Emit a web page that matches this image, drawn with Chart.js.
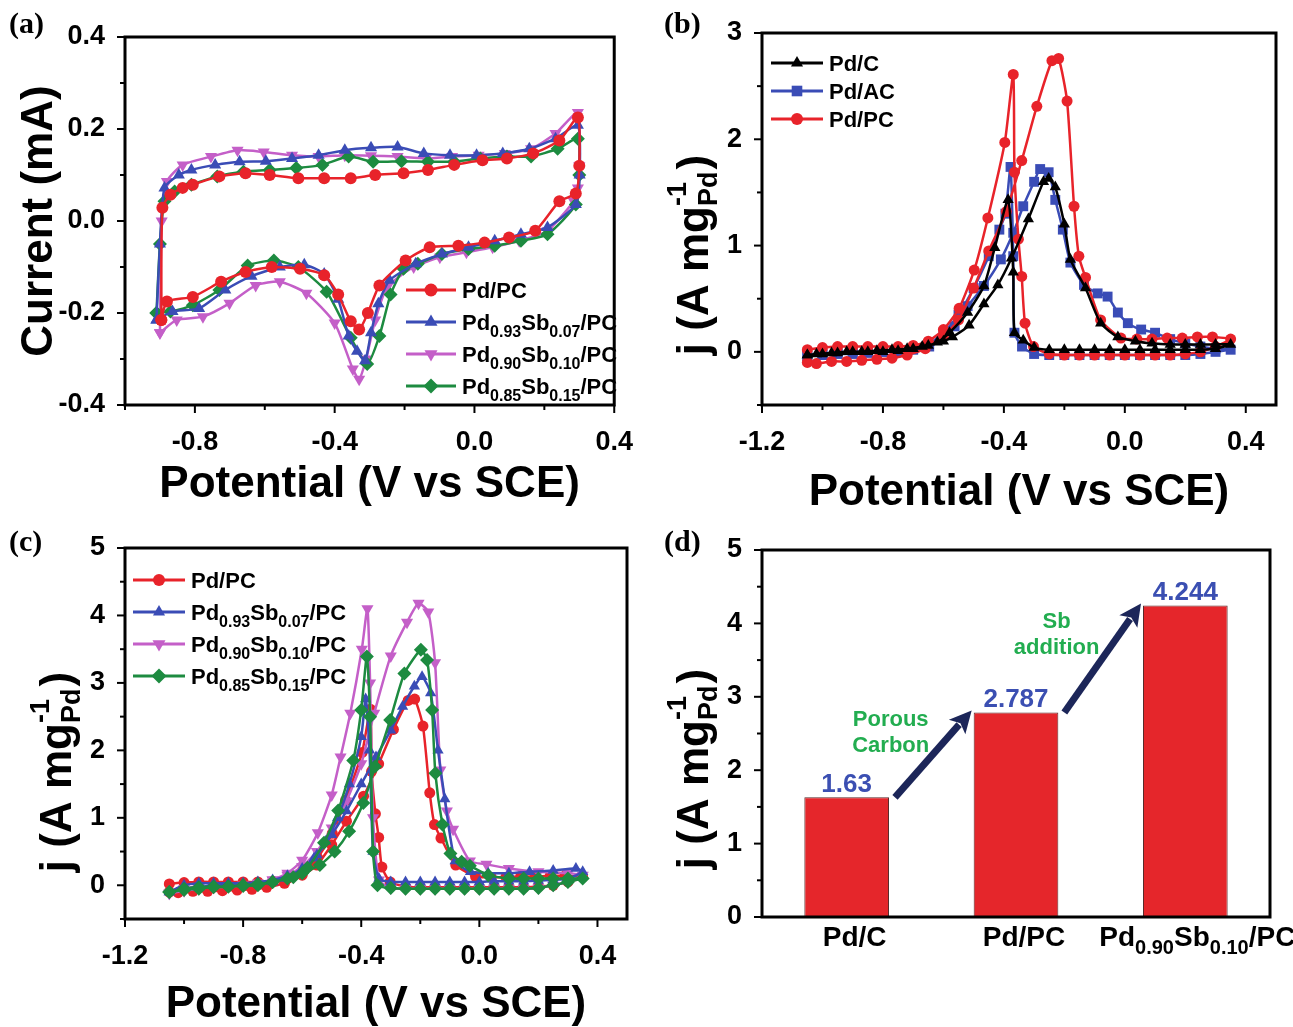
<!DOCTYPE html>
<html>
<head>
<meta charset="utf-8">
<script src="https://cdn.jsdelivr.net/npm/chart.js@4.4.0/dist/chart.umd.min.js"></script>
<style>
  body { margin: 0; background: #fff; }
  #wrap { position: relative; width: 1293px; height: 1027px; overflow: hidden; background: #fff; }
  canvas { position: absolute; }
</style>
</head>
<body>
<div id="wrap">
  <canvas id="cvA" width="646" height="515" style="left:0;top:0"></canvas>
  <canvas id="cvB" width="647" height="515" style="left:646px;top:0"></canvas>
  <canvas id="cvC" width="646" height="512" style="left:0;top:515px"></canvas>
  <canvas id="cvD" width="647" height="512" style="left:646px;top:515px"></canvas>
</div>
<script>
// ---- (a) CV loops: potential (V vs SCE) and current (mA), anodic branch then cathodic branch
const aPdPC_E = [-0.896,-0.893,-0.87,-0.835,-0.806,-0.73,-0.655,-0.586,-0.504,-0.43,-0.354,-0.284,-0.203,-0.133,-0.058,0.023,0.093,0.168,0.243,0.296,
  0.3,0.29,0.243,0.174,0.099,0.029,-0.046,-0.128,-0.197,-0.272,-0.305,-0.33,-0.354,-0.39,-0.43,-0.499,-0.58,-0.655,-0.725,-0.806,-0.88,-0.896];
const aPdPC_I = [-0.215,0.029,0.057,0.072,0.079,0.097,0.104,0.100,0.093,0.093,0.093,0.100,0.104,0.111,0.122,0.132,0.136,0.147,0.175,0.225,
  0.120,0.060,0.043,-0.021,-0.036,-0.047,-0.054,-0.057,-0.086,-0.140,-0.200,-0.236,-0.218,-0.160,-0.118,-0.104,-0.100,-0.111,-0.132,-0.165,-0.175,-0.215];

const aSb07_E = [-0.91,-0.9,-0.887,-0.846,-0.81,-0.742,-0.672,-0.597,-0.522,-0.446,-0.371,-0.296,-0.22,-0.145,-0.07,0.006,0.081,0.157,0.232,0.296,
  0.301,0.29,0.209,0.133,0.058,-0.017,-0.093,-0.168,-0.243,-0.275,-0.296,-0.313,-0.336,-0.36,-0.39,-0.43,-0.487,-0.557,-0.638,-0.713,-0.788,-0.864,-0.91];
const aSb07_I = [-0.215,-0.05,0.072,0.100,0.111,0.122,0.129,0.130,0.136,0.143,0.154,0.159,0.161,0.147,0.143,0.143,0.147,0.157,0.179,0.208,
  0.100,0.036,-0.014,-0.029,-0.043,-0.057,-0.072,-0.093,-0.129,-0.180,-0.243,-0.304,-0.283,-0.250,-0.170,-0.115,-0.095,-0.100,-0.120,-0.150,-0.190,-0.197,-0.215];

const aSb10_E = [-0.9,-0.895,-0.88,-0.835,-0.754,-0.678,-0.603,-0.522,-0.446,-0.371,-0.296,-0.22,-0.139,-0.064,0.012,0.087,0.162,0.232,0.296,
  0.3,0.296,0.284,0.209,0.128,0.052,-0.023,-0.099,-0.174,-0.249,-0.284,-0.31,-0.33,-0.348,-0.4,-0.481,-0.557,-0.626,-0.701,-0.777,-0.852,-0.9];
const aSb10_I = [-0.243,0.0,0.086,0.122,0.140,0.154,0.150,0.143,0.140,0.143,0.142,0.140,0.136,0.140,0.143,0.147,0.157,0.190,0.236,
  0.120,0.072,0.043,-0.021,-0.043,-0.057,-0.068,-0.079,-0.100,-0.143,-0.215,-0.300,-0.344,-0.322,-0.222,-0.157,-0.132,-0.140,-0.179,-0.208,-0.215,-0.243];

const aSb15_E = [-0.91,-0.9,-0.887,-0.858,-0.81,-0.736,-0.661,-0.586,-0.51,-0.435,-0.36,-0.29,-0.209,-0.133,-0.058,0.017,0.093,0.162,0.238,0.296,
  0.3,0.29,0.209,0.133,0.058,-0.017,-0.093,-0.162,-0.203,-0.24,-0.272,-0.307,-0.354,-0.423,-0.504,-0.574,-0.649,-0.73,-0.806,-0.87,-0.91];
const aSb15_I = [-0.2,-0.05,0.043,0.064,0.079,0.097,0.107,0.111,0.115,0.122,0.140,0.129,0.130,0.129,0.129,0.136,0.140,0.140,0.157,0.179,
  0.100,0.036,-0.029,-0.043,-0.054,-0.061,-0.072,-0.093,-0.104,-0.160,-0.250,-0.311,-0.254,-0.154,-0.100,-0.086,-0.097,-0.150,-0.183,-0.197,-0.200];

// ---- (b)/(c) ethanol oxidation: forward scan and backward scan, j in A/mg Pd
const pdcFwdE = [-1.05,-1.0,-0.95,-0.9,-0.85,-0.8,-0.75,-0.7,-0.65,-0.6,-0.57,-0.515,-0.466,-0.42,-0.375,-0.319,-0.269,-0.252,-0.23,-0.2,-0.18,-0.13,-0.08,-0.023,0.035,0.09,0.15,0.2,0.25,0.3,0.35];
const pdcFwdJ = [-0.03,-0.02,-0.01,0.0,0.0,0.0,0.01,0.03,0.06,0.1,0.14,0.25,0.45,0.63,0.88,1.25,1.6,1.63,1.55,1.2,0.87,0.6,0.27,0.14,0.1,0.08,0.07,0.07,0.07,0.07,0.07];
const pdcBwdE = [0.3,0.25,0.2,0.15,0.1,0.05,0.0,-0.05,-0.1,-0.15,-0.2,-0.25,-0.3,-0.336,-0.365,-0.369,-0.386,-0.43,-0.466,-0.52,-0.58,-0.62,-0.67,-0.72,-0.77,-0.82,-0.87,-0.92,-0.97,-1.02,-1.05];
const pdcBwdJ = [0.03,0.02,0.02,0.02,0.02,0.02,0.02,0.02,0.02,0.02,0.02,0.02,0.04,0.11,0.18,0.75,1.43,0.98,0.62,0.37,0.18,0.09,0.05,0.03,0.02,0.01,0.0,0.0,-0.01,-0.02,-0.03];

const pdacFwdE = [-1.05,-1.0,-0.95,-0.9,-0.85,-0.8,-0.75,-0.7,-0.647,-0.605,-0.563,-0.52,-0.466,-0.41,-0.369,-0.336,-0.3,-0.28,-0.252,-0.23,-0.205,-0.18,-0.135,-0.09,-0.057,-0.023,0.01,0.054,0.1,0.15,0.2,0.25,0.3,0.35];
const pdacFwdJ = [-0.04,-0.02,-0.01,0.0,0.0,0.0,0.0,0.02,0.05,0.12,0.24,0.43,0.62,0.87,1.12,1.37,1.6,1.72,1.69,1.43,1.15,0.84,0.63,0.55,0.52,0.37,0.27,0.21,0.18,0.12,0.08,0.05,0.03,0.02];
const pdacBwdE = [0.3,0.25,0.2,0.15,0.1,0.05,0.0,-0.05,-0.1,-0.15,-0.2,-0.25,-0.3,-0.34,-0.365,-0.369,-0.378,-0.395,-0.415,-0.45,-0.5,-0.55,-0.6,-0.65,-0.7,-0.75,-0.8,-0.85,-0.9,-0.95,-1.0,-1.05];
const pdacBwdJ = [0.0,-0.02,-0.03,-0.03,-0.03,-0.03,-0.03,-0.03,-0.03,-0.03,-0.03,-0.03,-0.02,0.05,0.18,0.9,1.74,1.3,1.15,0.9,0.6,0.35,0.18,0.07,0.03,0.01,0.0,-0.01,-0.02,-0.02,-0.03,-0.04];

const pdpcFwdE = [-1.05,-1.02,-0.97,-0.92,-0.87,-0.82,-0.77,-0.72,-0.66,-0.6,-0.55,-0.5,-0.45,-0.392,-0.341,-0.291,-0.241,-0.219,-0.191,-0.168,-0.152,-0.13,-0.08,-0.013,0.04,0.09,0.14,0.19,0.24,0.29,0.35];
const pdpcFwdJ = [-0.1,-0.11,-0.09,-0.09,-0.08,-0.07,-0.06,-0.03,0.03,0.15,0.3,0.6,0.95,1.32,1.8,2.31,2.74,2.76,2.36,1.37,0.9,0.7,0.3,0.13,0.12,0.12,0.13,0.13,0.14,0.14,0.12];
const pdpcBwdE = [0.3,0.25,0.2,0.15,0.1,0.05,0.0,-0.05,-0.1,-0.15,-0.2,-0.25,-0.302,-0.33,-0.341,-0.352,-0.365,-0.369,-0.397,-0.453,-0.498,-0.548,-0.6,-0.65,-0.7,-0.75,-0.8,-0.85,-0.9,-0.95,-1.0,-1.05];
const pdpcBwdJ = [0.05,0.0,-0.02,-0.03,-0.03,-0.03,-0.03,-0.03,-0.03,-0.03,-0.03,-0.02,0.05,0.27,0.71,1.06,1.69,2.61,1.97,1.26,0.77,0.41,0.21,0.1,0.06,0.05,0.05,0.05,0.05,0.05,0.04,0.02];

const sb07FwdE = [-1.05,-1.0,-0.95,-0.9,-0.85,-0.8,-0.75,-0.7,-0.65,-0.6,-0.55,-0.5,-0.45,-0.4,-0.35,-0.3,-0.26,-0.22,-0.194,-0.165,-0.14,-0.117,-0.082,-0.03,0.03,0.1,0.17,0.25,0.327,0.35];
const sb07FwdJ = [-0.1,0.0,0.03,0.03,0.03,0.03,0.05,0.08,0.14,0.25,0.45,0.75,1.1,1.5,1.9,2.3,2.65,2.95,3.09,2.85,2.0,1.28,0.36,0.2,0.18,0.18,0.2,0.22,0.25,0.2];
const sb07BwdE = [0.3,0.25,0.2,0.15,0.1,0.05,0.0,-0.05,-0.1,-0.15,-0.2,-0.25,-0.3,-0.34,-0.36,-0.372,-0.385,-0.4,-0.44,-0.48,-0.52,-0.56,-0.6,-0.65,-0.7,-0.75,-0.8,-0.85,-0.9,-0.95,-1.0,-1.05];
const sb07BwdJ = [0.1,0.08,0.07,0.06,0.06,0.06,0.05,0.05,0.05,0.05,0.05,0.05,0.05,0.1,0.5,2.0,2.76,2.2,1.5,1.0,0.65,0.4,0.22,0.1,0.05,0.03,0.02,0.0,0.0,-0.03,-0.05,-0.1];

const sb10FwdE = [-1.05,-1.0,-0.95,-0.9,-0.85,-0.8,-0.75,-0.7,-0.65,-0.6,-0.55,-0.5,-0.45,-0.4,-0.356,-0.3,-0.245,-0.206,-0.173,-0.15,-0.132,-0.11,-0.089,-0.032,0.024,0.1,0.2,0.3,0.35];
const sb10FwdJ = [-0.12,-0.05,-0.03,-0.03,-0.02,0.0,0.03,0.08,0.15,0.28,0.5,0.85,1.25,1.8,2.55,3.4,3.9,4.18,4.05,3.3,1.71,1.1,0.83,0.36,0.31,0.25,0.2,0.18,0.15];
const sb10BwdE = [0.3,0.25,0.2,0.15,0.1,0.05,0.0,-0.05,-0.1,-0.15,-0.2,-0.25,-0.3,-0.34,-0.36,-0.37,-0.379,-0.398,-0.437,-0.47,-0.5,-0.547,-0.6,-0.65,-0.7,-0.75,-0.8,-0.85,-0.9,-0.95,-1.0,-1.05];
const sb10BwdJ = [0.05,0.0,-0.04,-0.05,-0.05,-0.05,-0.05,-0.05,-0.05,-0.05,-0.05,-0.05,-0.04,0.08,1.0,3.0,4.1,3.5,2.55,1.9,1.34,0.78,0.37,0.18,0.08,0.03,0.0,-0.02,-0.03,-0.05,-0.08,-0.12];

const sb15FwdE = [-1.05,-1.0,-0.95,-0.9,-0.85,-0.8,-0.75,-0.7,-0.65,-0.6,-0.54,-0.49,-0.441,-0.393,-0.353,-0.302,-0.254,-0.198,-0.177,-0.16,-0.149,-0.125,-0.098,-0.06,-0.032,0.03,0.1,0.15,0.2,0.25,0.3,0.35];
const sb15FwdJ = [-0.1,-0.05,-0.03,-0.02,-0.02,-0.01,0.0,0.05,0.1,0.18,0.3,0.5,0.8,1.22,1.76,2.45,3.14,3.49,3.34,2.6,1.66,0.9,0.47,0.35,0.29,0.15,0.1,0.1,0.1,0.1,0.1,0.1];
const sb15BwdE = [0.3,0.25,0.2,0.15,0.1,0.05,0.0,-0.05,-0.1,-0.15,-0.2,-0.25,-0.3,-0.345,-0.36,-0.37,-0.381,-0.4,-0.427,-0.478,-0.526,-0.582,-0.63,-0.7,-0.75,-0.8,-0.85,-0.9,-0.95,-1.0,-1.05];
const sb15BwdJ = [0.05,0.0,-0.04,-0.05,-0.05,-0.05,-0.05,-0.05,-0.05,-0.05,-0.05,-0.05,-0.04,0.0,0.5,2.5,3.39,2.6,1.85,1.11,0.63,0.26,0.12,0.05,0.02,0.0,-0.02,-0.03,-0.05,-0.07,-0.1];

// ---- (d) peak mass activity
const dCategories = ['Pd/C', 'Pd/PC', 'Pd0.90Sb0.10/PC'];
const dValues = [1.63, 2.787, 4.244];
const dValueLabels = ['1.63', '2.787', '4.244'];
const dNotes = [['Porous', 'Carbon'], ['Sb', 'addition']];

// ---- tick positions (labels only on the major ones)
const aXTicks = [-1.0, -0.8, -0.6, -0.4, -0.2, 0.0, 0.2, 0.4];
const aYTicks = [-0.4, -0.3, -0.2, -0.1, 0.0, 0.1, 0.2, 0.3, 0.4];
const bcXTicks = [-1.2, -1.0, -0.8, -0.6, -0.4, -0.2, 0.0, 0.2, 0.4];
const bYTicks = [-0.5, 0, 0.5, 1, 1.5, 2, 2.5, 3];
const cYTicks = [-0.5, 0, 0.5, 1, 1.5, 2, 2.5, 3, 3.5, 4, 4.5, 5];
const dYTicks = [0, 0.5, 1, 1.5, 2, 2.5, 3, 3.5, 4, 4.5, 5];

const SANS = "'Liberation Sans', Arial, Helvetica, sans-serif";
const SERIF = "'Liberation Serif', 'Times New Roman', serif";
const RED = '#e8232a', BLUE = '#3a4cb6', MAGENTA = '#c45fc8', GREEN = '#1d8b40', BLACK = '#000000';
const NAVY = '#1c2659', VALBLUE = '#3b4fb2', NOTEGREEN = '#22ad50', BARRED = '#e5262b';

function onStep(v, step) { const q = v / step; return Math.abs(q - Math.round(q)) < 1e-6; }
function fmt1(v) { return (Math.abs(v) < 1e-9 ? 0 : v).toFixed(1); }
function fmt0(v) { return String(Math.round(v)); }

// split "Pd0.93Sb0.07/PC" into normal and subscript pieces
function richParts(str, plain) {
  if (plain) return [{ t: str, sub: false }];
  return str.split(/(\d+\.\d+)/).filter(s => s !== '').map(s => ({ t: s, sub: /^\d+\.\d+$/.test(s) }));
}
function drawRich(ctx, str, x, y, size, align, color, plain) {
  const parts = richParts(str, plain);
  const small = Math.round(size * 0.72);
  let w = 0;
  parts.forEach(p => {
    ctx.font = `bold ${p.sub ? small : size}px ${SANS}`;
    p.w = ctx.measureText(p.t).width;
    w += p.w;
  });
  let cx = align === 'center' ? x - w / 2 : (align === 'right' ? x - w : x);
  ctx.fillStyle = color;
  ctx.textAlign = 'left';
  ctx.textBaseline = 'alphabetic';
  parts.forEach(p => {
    ctx.font = `bold ${p.sub ? small : size}px ${SANS}`;
    ctx.fillText(p.t, cx, p.sub ? y + size * 0.3 : y);
    cx += p.w;
  });
}

// rotated "j (A mg_Pd^-1)" axis title
function drawJTitle(ctx, cx, cy, size) {
  const small = Math.round(size * 0.62);
  ctx.save();
  ctx.translate(cx, cy);
  ctx.rotate(-Math.PI / 2);
  ctx.fillStyle = '#000';
  ctx.textAlign = 'left';
  ctx.textBaseline = 'alphabetic';
  ctx.font = `bold ${size}px ${SANS}`;
  const w1 = ctx.measureText('j (A mg').width;
  const w3 = ctx.measureText(')').width;
  ctx.font = `bold ${small}px ${SANS}`;
  const ws = Math.max(ctx.measureText('-1').width, ctx.measureText('Pd').width);
  const total = w1 + ws + 2 + w3;
  const base = size * 0.36;
  let x = -total / 2;
  ctx.font = `bold ${size}px ${SANS}`;
  ctx.fillText('j (A mg', x, base);
  x += w1;
  ctx.font = `bold ${small}px ${SANS}`;
  ctx.fillText('-1', x, base - size * 0.5);
  ctx.fillText('Pd', x, base + size * 0.2);
  x += ws + 2;
  ctx.font = `bold ${size}px ${SANS}`;
  ctx.fillText(')', x, base);
  ctx.restore();
}

function drawMarker(ctx, style, rot, x, y, r, color) {
  ctx.save();
  ctx.translate(x, y);
  ctx.rotate((rot || 0) * Math.PI / 180);
  ctx.fillStyle = color;
  ctx.beginPath();
  if (style === 'circle') ctx.arc(0, 0, r, 0, Math.PI * 2);
  else if (style === 'triangle') { ctx.moveTo(0, -r); ctx.lineTo(r * 0.866, r * 0.5); ctx.lineTo(-r * 0.866, r * 0.5); ctx.closePath(); }
  else if (style === 'rectRot') { ctx.moveTo(0, -r); ctx.lineTo(r, 0); ctx.lineTo(0, r); ctx.lineTo(-r, 0); ctx.closePath(); }
  else { const h = r * 0.707; ctx.rect(-h, -h, 2 * h, 2 * h); }
  ctx.fill();
  ctx.restore();
}

function drawArrow(ctx, x1, y1, x2, y2, color) {
  const ang = Math.atan2(y2 - y1, x2 - x1);
  const headL = 22, headW = 11;
  const bx = x2 - headL * Math.cos(ang), by = y2 - headL * Math.sin(ang);
  ctx.strokeStyle = color;
  ctx.lineWidth = 7;
  ctx.beginPath(); ctx.moveTo(x1, y1); ctx.lineTo(bx + 3 * Math.cos(ang), by + 3 * Math.sin(ang)); ctx.stroke();
  ctx.fillStyle = color;
  ctx.beginPath();
  ctx.moveTo(x2, y2);
  ctx.lineTo(bx + headW * Math.sin(ang), by - headW * Math.cos(ang));
  ctx.lineTo(bx + 5 * Math.cos(ang), by + 5 * Math.sin(ang));
  ctx.lineTo(bx - headW * Math.sin(ang), by + headW * Math.cos(ang));
  ctx.closePath();
  ctx.fill();
}

// frame box + outward major/minor ticks on the left and bottom axes
const frameTicks = {
  id: 'frameTicks',
  afterDatasetsDraw(chart, args, o) {
    const { ctx, chartArea: a } = chart;
    ctx.save();
    ctx.strokeStyle = '#000';
    ctx.lineWidth = 2;
    ['x', 'y'].forEach(id => {
      const cfg = o[id];
      if (!cfg) return;
      const s = chart.scales[id];
      s.ticks.forEach(t => {
        const len = onStep(t.value, cfg.major) ? 8 : 5;
        const p = s.getPixelForValue(t.value);
        ctx.beginPath();
        if (id === 'x') { ctx.moveTo(p, a.bottom); ctx.lineTo(p, a.bottom + len); }
        else { ctx.moveTo(a.left, p); ctx.lineTo(a.left - len, p); }
        ctx.stroke();
      });
    });
    ctx.lineWidth = 3;
    ctx.strokeRect(a.left, a.top, a.right - a.left, a.bottom - a.top);
    ctx.restore();
  }
};

// panel tag, legend, rich titles, bar labels and arrows
const deco = {
  id: 'deco',
  afterDraw(chart, args, o) {
    const ctx = chart.ctx;
    ctx.save();
    if (o.tag) {
      ctx.font = `bold 30px ${SERIF}`;
      ctx.fillStyle = '#000';
      ctx.textAlign = 'left';
      ctx.textBaseline = 'alphabetic';
      ctx.fillText(o.tag, o.tagX, o.tagY);
    }
    if (o.legend) {
      const L = o.legend;
      L.items.forEach((di, k) => {
        const ds = chart.data.datasets[di];
        const y = L.y + k * L.dy;
        ctx.strokeStyle = ds.borderColor;
        ctx.lineWidth = 3;
        ctx.beginPath(); ctx.moveTo(L.x, y); ctx.lineTo(L.x + L.len, y); ctx.stroke();
        drawMarker(ctx, ds.pointStyle, ds.pointRotation, L.x + L.len / 2, y, ds.pointRadius + 0.5, ds.backgroundColor);
        drawRich(ctx, ds.label, L.x + L.len + 6, y + L.size * 0.36, L.size, 'left', '#000');
      });
    }
    if (o.jTitle) drawJTitle(ctx, o.jTitle.x, o.jTitle.y, 44);
    if (o.bars) {
      const meta = chart.getDatasetMeta(0);
      const xs = chart.scales.x, ys = chart.scales.y;
      meta.data.forEach((b, i) => {
        drawRich(ctx, chart.data.labels[i], b.x + o.bars.labelDx[i], o.bars.labelY, 28, 'center', '#000');
        drawRich(ctx, dValueLabels[i], b.x, b.y - 5, 26, 'center', VALBLUE, true);
      });
      for (let i = 0; i + 1 < meta.data.length; i++) {
        const b0 = meta.data[i], b1 = meta.data[i + 1];
        drawArrow(ctx, b0.x + b0.width / 2 + 6, b0.y, b1.x - b1.width / 2 - 2, b1.y - 2, NAVY);
      }
      o.bars.notes.forEach((n, i) => {
        const x = xs.getPixelForValue(n.at[0]);
        dNotes[i].forEach((line, k) => {
          drawRich(ctx, line, x, ys.getPixelForValue(n.at[1]) + k * 26, 22, 'center', NOTEGREEN, true);
        });
      });
    }
    ctx.restore();
  }
};

Chart.register(frameTicks, deco);

function curve(label, xs, ys, color, style, r, rot) {
  return {
    label, data: xs.map((x, i) => ({ x, y: ys[i] })), showLine: true,
    borderColor: color, backgroundColor: color, borderWidth: 2.5,
    pointStyle: style, pointRadius: r, pointRotation: rot || 0, pointBorderWidth: 0,
    tension: 0.2
  };
}

function linAxis(pos, min, max, tickVals, major, fmt, size, title, titlePad) {
  const ax = {
    type: 'linear', position: pos, min, max,
    ticks: {
      autoSkip: false, maxRotation: 0, color: '#000',
      padding: pos === 'bottom' ? 13 : 12,
      font: { family: SANS, size: 27, weight: 'bold' },
      callback: v => onStep(v, major) ? fmt(v) : ''
    },
    afterBuildTicks: s => { s.ticks = tickVals.map(v => ({ value: v })); },
    grid: { display: false },
    border: { display: false },
    afterFit: s => { if (pos === 'bottom') s.height = size; else s.width = size; }
  };
  if (title) {
    ax.title = { display: true, text: title, color: '#000', padding: titlePad,
      font: { family: SANS, size: 44, weight: 'bold', lineHeight: 1 } };
  }
  return ax;
}

function baseOptions(pad, scales, decoOpts, tickOpts) {
  return {
    responsive: false, animation: false, events: [],
    layout: { padding: pad },
    scales,
    plugins: { legend: { display: false }, tooltip: { enabled: false }, deco: decoOpts, frameTicks: tickOpts }
  };
}

// (a)
new Chart(document.getElementById('cvA'), {
  type: 'scatter',
  data: { datasets: [
    curve('Pd/PC', aPdPC_E, aPdPC_I, RED, 'circle', 6),
    curve('Pd0.93Sb0.07/PC', aSb07_E, aSb07_I, BLUE, 'triangle', 7),
    curve('Pd0.85Sb0.15/PC', aSb15_E, aSb15_I, GREEN, 'rectRot', 7),
    curve('Pd0.90Sb0.10/PC', aSb10_E, aSb10_I, MAGENTA, 'triangle', 7, 180)
  ] },
  options: baseOptions({ top: 37, right: 19, left: 0, bottom: 0 }, {
    x: linAxis('bottom', -1.0, 0.4, aXTicks, 0.4, fmt1, 110, 'Potential (V vs SCE)', 8),
    y: linAxis('left', -0.4, 0.4, aYTicks, 0.2, fmt1, 125, 'Current (mA)', 18)
  }, {
    tag: '(a)', tagX: 9, tagY: 33,
    legend: { x: 406, y: 290, dy: 32, len: 50, size: 22, items: [0, 1, 3, 2] }
  }, { x: { major: 0.4 }, y: { major: 0.2 } })
});

// (b)
new Chart(document.getElementById('cvB'), {
  type: 'scatter',
  data: { datasets: [
    curve('Pd/C', pdcFwdE.concat(pdcBwdE), pdcFwdJ.concat(pdcBwdJ), BLACK, 'triangle', 6.5),
    curve('Pd/PC', pdpcFwdE.concat(pdpcBwdE), pdpcFwdJ.concat(pdpcBwdJ), RED, 'circle', 5.5),
    curve('Pd/AC', pdacFwdE.concat(pdacBwdE), pdacFwdJ.concat(pdacBwdJ), BLUE, 'rect', 7)
  ] },
  options: baseOptions({ top: 33, right: 17, left: 0, bottom: 0 }, {
    x: linAxis('bottom', -1.2, 0.5, bcXTicks, 0.4, fmt1, 110, 'Potential (V vs SCE)', 0),
    y: linAxis('left', -0.5, 3, bYTicks, 1, fmt0, 116)
  }, {
    tag: '(b)', tagX: 18, tagY: 33,
    jTitle: { x: 46, y: 255 },
    legend: { x: 125, y: 63, dy: 28, len: 52, size: 22, items: [0, 2, 1] }
  }, { x: { major: 0.4 }, y: { major: 1 } })
});

// (c)
new Chart(document.getElementById('cvC'), {
  type: 'scatter',
  data: { datasets: [
    curve('Pd0.85Sb0.15/PC', sb15FwdE.concat(sb15BwdE), sb15FwdJ.concat(sb15BwdJ), GREEN, 'rectRot', 7),
    curve('Pd0.93Sb0.07/PC', sb07FwdE.concat(sb07BwdE), sb07FwdJ.concat(sb07BwdJ), BLUE, 'triangle', 6.5),
    curve('Pd0.90Sb0.10/PC', sb10FwdE.concat(sb10BwdE), sb10FwdJ.concat(sb10BwdJ), MAGENTA, 'triangle', 7, 180),
    curve('Pd/PC', pdpcFwdE.concat(pdpcBwdE), pdpcFwdJ.concat(pdpcBwdJ), RED, 'circle', 5.5)
  ] },
  options: baseOptions({ top: 33, right: 19, left: 0, bottom: 0 }, {
    x: linAxis('bottom', -1.2, 0.5, bcXTicks, 0.4, fmt1, 108, 'Potential (V vs SCE)', 0),
    y: linAxis('left', -0.5, 5, cYTicks, 1, fmt0, 125)
  }, {
    tag: '(c)', tagX: 9, tagY: 36,
    jTitle: { x: 55, y: 257 },
    legend: { x: 133, y: 65, dy: 32, len: 52, size: 22, items: [3, 1, 2, 0] }
  }, { x: { major: 0.4 }, y: { major: 1 } })
});

// (d)
new Chart(document.getElementById('cvD'), {
  type: 'bar',
  data: { labels: dCategories, datasets: [{
    label: 'Peak current density', data: dValues,
    backgroundColor: BARRED, borderColor: '#5a2a2a', borderWidth: 1,
    barPercentage: 0.5, categoryPercentage: 1.0
  }] },
  options: baseOptions({ top: 35, right: 23, left: 0, bottom: 0 }, {
    x: { type: 'category', ticks: { display: false }, grid: { display: false }, border: { display: false },
      afterFit: s => { s.height = 110; } },
    y: linAxis('left', 0, 5, dYTicks, 1, fmt0, 116)
  }, {
    tag: '(d)', tagX: 18, tagY: 36,
    jTitle: { x: 46, y: 254 },
    bars: { labelY: 431, labelDx: [8, 8, 12], notes: [{ at: [0.26, 2.6] }, { at: [1.24, 3.94] }] }
  }, { y: { major: 1 } })
});
</script>
</body>
</html>
